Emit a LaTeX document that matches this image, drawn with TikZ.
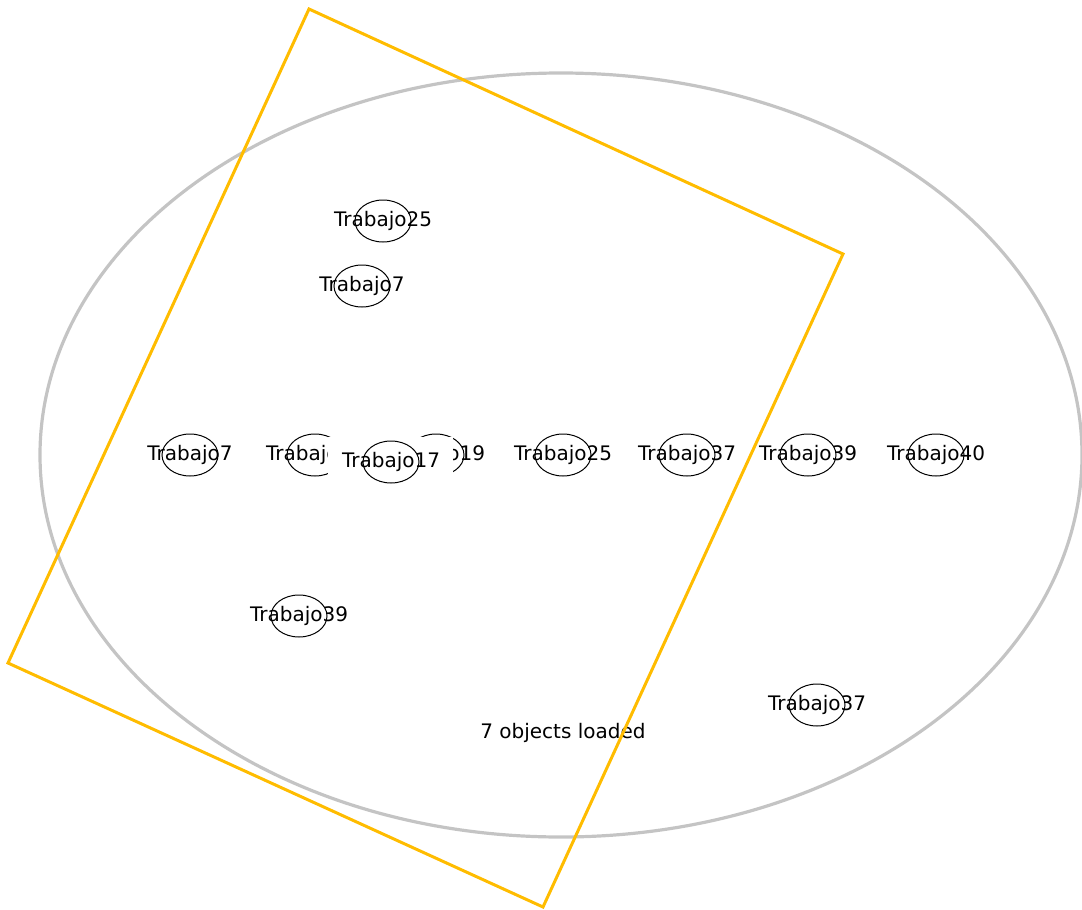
\documentclass[tikz,border=0pt]{standalone}
\usepackage{fontspec}
\setmainfont{DejaVu Sans}
\usetikzlibrary{shapes.geometric}
\definecolor{amber}{RGB}{255,188,0}
\definecolor{rim}{RGB}{196,196,196}
\begin{document}
\begin{tikzpicture}[x=1pt, y=-1pt,
  font=\fontsize{20}{23}\selectfont,
  job/.style={draw, ellipse, line width=1pt, minimum width=56pt, minimum height=42pt, inner sep=0pt},
  cover/.style={fill=white, minimum width=125pt, minimum height=50pt, inner sep=0pt}]
\useasboundingbox (0,0) rectangle (1082,910);
\draw[rim, line width=3.2pt] (561,455) ellipse [x radius=521, y radius=382];
% upper left
\node[job, label=center:Trabajo25] (job25a) at (383,221) {};
\node[job, label=center:Trabajo7] (job7a) at (362,286) {};
% the row
\node[job, label=center:Trabajo7] (job7) at (190,455) {};
\node[job, label=center:Trabajo17] (job17) at (315,455) {};
\node[job, label=center:Trabajo19] (job19) at (436,455) {};
\node[job, label=center:Trabajo25] (job25) at (563,455) {};
\node[job, label=center:Trabajo37] (job37) at (687,455) {};
\node[job, label=center:Trabajo39] (job39) at (808,455) {};
\node[job, label=center:Trabajo40] (job40) at (936,455) {};
% lower
\node[job, label=center:Trabajo39] (job39a) at (299,616) {};
\node[job, label=center:Trabajo37] (job37a) at (817,705) {};
\node (status) at (563,733) {7 objects loaded};
\draw[amber, line width=3pt, line join=miter] (309,9) -- (843,254) -- (543,907) -- (8,663) -- cycle;
% dragged one on top
\node[cover] (moved) at (390,462) {};
\node[job, label=center:Trabajo17] (job17a) at (391,462) {};
\end{tikzpicture}
\end{document}
